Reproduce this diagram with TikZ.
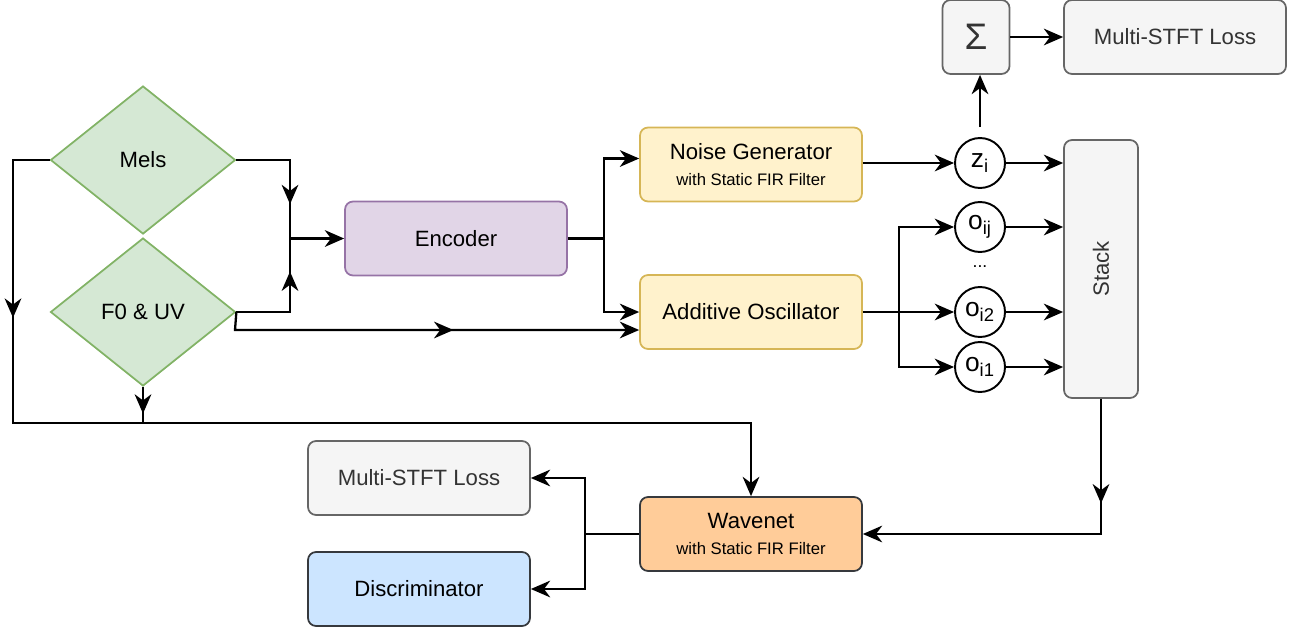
\documentclass[tikz,border=0pt]{standalone}
\usepackage{fontspec}
\setmainfont{Liberation Sans}
\usetikzlibrary{positioning,calc,shapes.geometric,arrows.meta,decorations.markings}

\definecolor{melfill}{HTML}{D5E8D4}
\definecolor{melline}{HTML}{82B366}
\definecolor{encfill}{HTML}{E1D5E7}
\definecolor{encline}{HTML}{9673A6}
\definecolor{genfill}{HTML}{FFF2CC}
\definecolor{genline}{HTML}{D6B656}
\definecolor{grayfill}{HTML}{F5F5F5}
\definecolor{grayline}{HTML}{666666}
\definecolor{graytext}{HTML}{333333}
\definecolor{wavefill}{HTML}{FFCC99}
\definecolor{darkline}{HTML}{36393D}
\definecolor{discfill}{HTML}{CCE5FF}

\tikzset{
  arr/.style={-{Stealth[length=11pt,width=9.5pt,inset=3.5pt]}, line width=1.3pt},
  wire/.style={line width=1.3pt},
  midarr/.style={postaction=decorate, decoration={markings, mark=at position #1 with {\arrow{Stealth[length=11pt,width=9.5pt,inset=3.5pt]}}}},
  blk/.style={draw, rounded corners=0.16cm, line width=1pt, minimum width=4.44cm, minimum height=1.48cm, align=center, inner sep=0pt, font=\fontsize{12.6}{15}\selectfont},
  graybox/.style={blk, fill=grayfill, draw=grayline, text=graytext},
  decide/.style={diamond, draw=melline, fill=melfill, line width=1pt, minimum width=3.7cm, minimum height=2.96cm, inner sep=0pt, font=\fontsize{12.6}{15}\selectfont},
  sig/.style={circle, draw, line width=1.1pt, minimum size=1cm, inner sep=0pt, font=\fontsize{15}{18}\selectfont},
}
\newcommand{\subline}{\fontsize{9.5}{11}\selectfont}

\begin{document}
\begin{tikzpicture}[x=0.02cm, y=-0.02cm]
\useasboundingbox (0,0) rectangle (1300,632);

% inputs
\node[decide] (mels) at (143,160) {Mels};
\node[decide] (fzero) at (143,312) {F0 \& UV};

% main blocks
\node[blk, fill=encfill, draw=encline] (enc) at (456,238.5) {Encoder};
\node[blk, fill=genfill, draw=genline] (noise) at (751,164.5) {Noise Generator\\[-0.5pt]{\subline with Static FIR Filter}};
\node[blk, fill=genfill, draw=genline] (osc) at (751,312) {Additive Oscillator};
\node[graybox, minimum width=1.34cm, font=\fontsize{21}{24}\selectfont] (sum) at (976,37) {Σ};
\node[graybox] (lossA) at (1175,37) {Multi-STFT Loss};
\node[graybox, minimum width=1.48cm, minimum height=5.16cm] (stack) at (1101,269) {\rotatebox{90}{Stack}};
\node[blk, fill=wavefill, draw=darkline] (wave) at (751,534) {Wavenet\\[-0.5pt]{\subline with Static FIR Filter}};
\node[graybox] (lossB) at (419,478) {Multi-STFT Loss};
\node[blk, fill=discfill, draw=darkline] (disc) at (419,589) {Discriminator};

% signals
\node[sig] (zi) at (980,163) {z\textsubscript{i}};
\node[sig] (oij) at (980,227) {o\textsubscript{ij}};
\node (dots) at (980,267) {...};
\node[sig] (oitwo) at (980,312) {o\textsubscript{i2}};
\node[sig] (oione) at (980,367) {o\textsubscript{i1}};

% junctions
\coordinate (jIn) at (290,238.5);
\coordinate (jEnc) at (604,238.5);
\coordinate (jOsc) at (899,312);
\coordinate (jOut) at (585,534);
\coordinate (cLeft) at (13,423);
\coordinate (cDown) at (235,330);

\draw[wire, midarr=0.74] (mels.east) -| (jIn);
\draw[wire, midarr=0.74] (fzero.east) -| (jIn);
\draw[arr] (jIn) -- (enc.west);
\draw[arr, midarr=0.56] (fzero.east) -- (cDown) -- (cDown -| osc.west);
\draw[arr, midarr=0.175] (mels.west) -| (cLeft) -| (wave.north);
\draw[wire, midarr=0.74] (fzero.south) -- (fzero.south |- cLeft);

\draw[wire] (enc.east) -- (jEnc);
\draw[arr] (jEnc) |- ([yshift=0.12cm]noise.west);
\draw[arr] (jEnc) |- (osc.west);

\draw[arr] (noise.east |- zi) -- (zi);
\draw[arr, shorten <=0.2cm] (zi.north) -- (zi.north |- sum.south);
\draw[arr] (sum.east) -- (lossA.west);

\draw[arr] (osc.east) -- (oitwo);
\draw[arr] (jOsc) |- (oij);
\draw[arr] (jOsc) |- (oione);

\draw[arr] (zi) -- (zi -| stack.west);
\draw[arr] (oij) -- (oij -| stack.west);
\draw[arr] (oitwo) -- (oitwo -| stack.west);
\draw[arr] (oione) -- (oione -| stack.west);

\draw[arr, midarr=0.28] (stack.south) |- (wave.east);
\draw[wire] (wave.west) -- (jOut);
\draw[arr] (jOut) |- (lossB.east);
\draw[arr] (jOut) |- (disc.east);
\end{tikzpicture}
\end{document}
